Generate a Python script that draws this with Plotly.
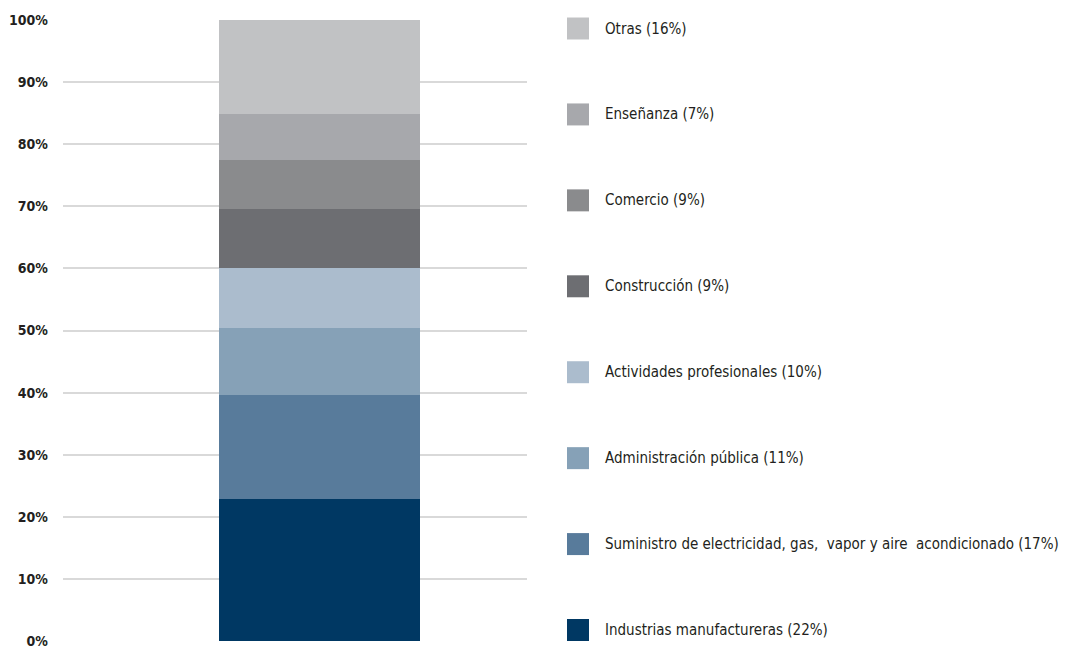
import plotly.graph_objects as go

categories = ["Total"]
sectors = [
    "Industrias manufactureras (22%)",
    "Suministro de electricidad, gas,  vapor y aire  acondicionado (17%)",
    "Administración pública (11%)",
    "Actividades profesionales (10%)",
    "Construcción (9%)",
    "Comercio (9%)",
    "Enseñanza (7%)",
    "Otras (16%)",
]
shares = [22.8, 16.8, 10.8, 9.6, 9.5, 7.9, 7.4, 15.2]
colors = ["#003863", "#587b9b", "#86a1b7", "#abbccd", "#6d6e72", "#8a8b8d", "#a7a8ac", "#c1c2c4"]
tick_vals = [0, 10, 20, 30, 40, 50, 60, 70, 80, 90, 100]
tick_text = ["0%", "10%", "20%", "30%", "40%", "50%", "60%", "70%", "80%", "90%", "100%"]

FONT = "DejaVu Sans Condensed, DejaVu Sans, sans-serif"
TXT = "#231f20"

fig = go.Figure()
for i, (name, val, col) in enumerate(zip(sectors, shares, colors)):
    fig.add_trace(go.Bar(
        x=categories, y=[val], name=name, marker=dict(color=col, line=dict(width=0)),
        width=1, showlegend=False, hoverinfo="name+y",
    ))

# custom legend (layout only): square + label, top item = last series
n = len(sectors)
top_c, bot_c = 0.9863, 0.0177
step = (top_c - bot_c) / (n - 1)
half = 11 / 621.5
shapes, annotations = [], []
for i, (name, col) in enumerate(zip(sectors, colors)):
    yc = bot_c + step * i
    shapes.append(dict(type="rect", xref="paper", yref="paper",
                       x0=1.0862, x1=1.1336, y0=yc - half, y1=yc + half,
                       fillcolor=col, line=dict(width=0)))
    annotations.append(dict(xref="paper", yref="paper", x=1.1638, y=yc,
                            xanchor="left", yanchor="middle", text=name, showarrow=False,
                            font=dict(family=FONT, size=15, color=TXT)))

fig.update_layout(
    width=1086, height=650,
    barmode="stack",
    plot_bgcolor="white", paper_bgcolor="white",
    margin=dict(l=55, r=567, t=11.5, b=17, autoexpand=False),
    font=dict(family=FONT, color=TXT),
    showlegend=False,
    shapes=shapes, annotations=annotations,
    xaxis=dict(range=[-1.276, 1.032], showticklabels=False, showgrid=False,
               zeroline=False, showline=False, ticks="", automargin=False),
    yaxis=dict(range=[0, 100], tickmode="array", tickvals=tick_vals, ticktext=tick_text,
               showgrid=True, gridcolor="#d9d9d9", gridwidth=2,
               zeroline=False, showline=False, ticks="", automargin=False,
               tickfont=dict(family=FONT, size=14, color=TXT, weight="bold"),
               ticklabelstandoff=14),
)

fig.write_html("out.html")
